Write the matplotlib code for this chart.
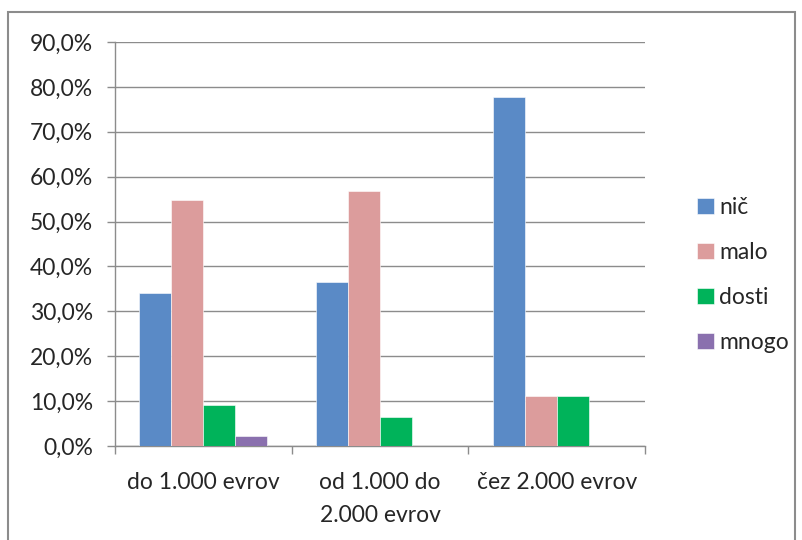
import matplotlib
matplotlib.use("Agg")
import matplotlib.pyplot as plt
import numpy as np
from matplotlib.patches import Rectangle
from matplotlib.ticker import FuncFormatter

plt.rcParams['font.family'] = ['Lato', 'DejaVu Sans']

categories = ["do 1.000 evrov", "od 1.000 do\n2.000 evrov", "čez 2.000 evrov"]
series_names = ["nič", "malo", "dosti", "mnogo"]
nic = [34.0, 36.6, 77.8]
malo = [54.7, 56.7, 11.2]
dosti = [9.1, 6.5, 11.2]
mnogo = [2.3, 0.0, 0.0]
yticks = [0, 10, 20, 30, 40, 50, 60, 70, 80, 90]

colors = ["#5A8AC6", "#DC9C9C", "#00B35A", "#8A70AE"]
values = [nic, malo, dosti, mnogo]
FS = 16.5
TC = '#262626'

W, H = 802, 540
fig = plt.figure(figsize=(W / 100, H / 100), dpi=100)
ax = fig.add_axes([115 / W, (H - 446) / H, 530 / W, 404 / H])

x = np.arange(len(categories))
bw = 0.181
for i, (name, vals, c) in enumerate(zip(series_names, values, colors)):
    ax.bar(x + (i - 1.5) * bw, vals, width=bw, color=c, label=name,
           edgecolor='white', linewidth=0.4, zorder=3)

ax.set_xlim(-0.5, 2.5)
ax.set_ylim(0, 90)
ax.set_yticks(yticks)
ax.yaxis.set_major_formatter(FuncFormatter(lambda v, p: f"{v:.1f}%".replace('.', ',')))
ax.grid(axis='y', color='#8c8c8c', linewidth=1.0, zorder=0)

ax.set_xticks(x)
ax.set_xticklabels(categories, fontsize=FS, color=TC, linespacing=1.7)
ax.set_xticks([-0.5, 0.5, 1.5, 2.5], minor=True)
ax.tick_params(axis='x', which='major', length=0, pad=19)
ax.tick_params(axis='x', which='minor', length=6, color='#8c8c8c', width=1)
ax.tick_params(axis='y', length=6, color='#8c8c8c', width=1, labelsize=FS,
               labelcolor=TC, pad=10)

for s in ['top', 'right']:
    ax.spines[s].set_visible(False)
for s in ['left', 'bottom']:
    ax.spines[s].set_color('#8c8c8c')
    ax.spines[s].set_linewidth(1.0)

leg = ax.legend(loc='center left', bbox_to_anchor=(686 / W, (H - 275) / H),
                bbox_transform=fig.transFigure, frameon=False, fontsize=FS,
                handlelength=0.7, handleheight=0.7, handletextpad=0.25,
                labelspacing=1.06, borderpad=0)
for t in leg.get_texts():
    t.set_color(TC)

fig.patches.append(Rectangle((8 / W, -0.02), 787 / W, (H - 12) / H + 0.02,
                             transform=fig.transFigure, fill=False,
                             edgecolor='#8c8c8c', linewidth=1.5))

fig.savefig("out.png", dpi=100)
